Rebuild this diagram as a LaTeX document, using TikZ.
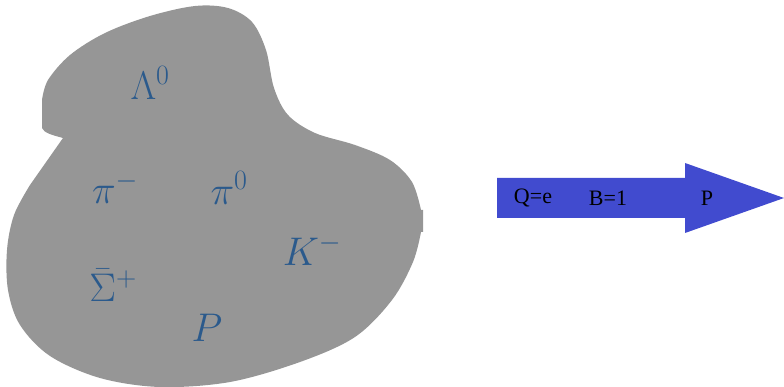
\RequirePackage{fix-cm}
\documentclass[tikz,border=0pt]{standalone}
\usepackage{amsmath}
\usepackage{fontspec}
\setmainfont{Liberation Serif}
\definecolor{blobgray}{HTML}{969696}
\definecolor{lbl}{HTML}{2B5A8C}
\definecolor{arrowblue}{HTML}{414BCF}
\begin{document}
\begin{tikzpicture}[x=1pt,y=-1pt,
  particle/.style={text=lbl,font=\fontsize{40}{46}\selectfont,inner sep=0pt},
  arrowtxt/.style={text=black,font=\fontsize{22}{26}\selectfont,inner sep=0pt}]
\useasboundingbox (0,0) rectangle (784,387);
% blob
\fill[blobgray] (63,138) -- (30,185)
  -- plot[smooth,tension=0.55] coordinates {(30,185) (14,215) (7,250) (8,290) (20,325) (50,356) (100,378) (160,387) (230,382) (300,362) (355,337) (392,300) (413,262) (421,232)}
  -- (423,232) -- (423,210) -- (421,210)
  -- plot[smooth,tension=0.55] coordinates {(421,210) (412,182) (390,160) (355,145) (315,133) (288,115) (274,88) (266,50) (252,22) (228,8) (195,6) (150,16) (105,33) (70,55) (48,80) (42,100)}
  -- (42,128) .. controls (44,133) and (52,135) .. (63,138) -- cycle;
% labels
\node[particle] (lam) at (150,83) {$\Lambda^{0}$};
\node[particle] (pim) at (115,188) {$\pi^{-}$};
\node[particle] (pi0) at (229,188) {$\pi^{0}$};
\node[particle] (km) at (312,250) {$K^{-}$};
\node[particle] (sig) at (113,285) {$\bar{\Sigma}^{+}$};
\node[particle] (p) at (207,328) {$P$};
% arrow
\fill[arrowblue] (497,178) -- (685,178) -- (685,163) -- (784,198) -- (685,233) -- (685,218) -- (497,218) -- cycle;
\node[arrowtxt] (q) at (533,198) {Q=e};
\node[arrowtxt] (b) at (608,198) {B=1};
\node[arrowtxt] (pp) at (707,198) {P};
\end{tikzpicture}
\end{document}
